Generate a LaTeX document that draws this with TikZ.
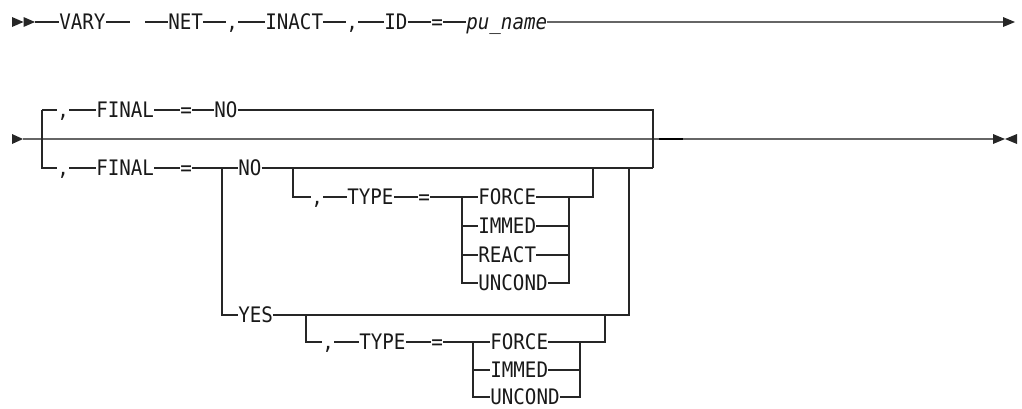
\documentclass[tikz,border=0pt]{standalone}
\usepackage{fontspec}
\usepackage{tikz}
\newfontfamily\railfont{DejaVu Sans Mono}[FakeStretch=0.9]
\tikzset{
        rail_kw/.style={font=\railfont\fontsize{16}{18}\selectfont, inner sep=0pt,
                        text height=11.7pt, text depth=0pt, anchor=west, text=black!90},
        rail_line/.style={draw=black!85, line width=0.8pt},
        rail_main/.style={draw=black!60, line width=1.3pt},
        rail_mark/.style={draw=black, line width=1.3pt},
        rail_tip/.style={fill=black!85}
    }

\begin{document}
\begin{tikzpicture}[x=0.75pt, y=-0.75pt]
    \useasboundingbox (0,0) rectangle (1022,408);
    % first line
    \coordinate (r1a) at (12,22);
    \coordinate (r1b) at (23.5,22);
    \coordinate (r1c) at (35,22);
    \fill[rail_tip] (r1a) ++(0,-5) -- (r1b) -- ++(-11.5,5) -- cycle;
    \fill[rail_tip] (r1b) ++(0,-5) -- (r1c) -- ++(-11.5,5) -- cycle;
    \node[rail_kw] (vary) at (59,22) {VARY};
    \coordinate (gapl) at (130,22);
    \coordinate (gapr) at (145,22);
    \node[rail_kw] (net) at (168,22) {NET};
    \node[rail_kw] (c1) at (226,22) {,};
    \node[rail_kw] (inact) at (265,22) {INACT};
    \node[rail_kw] (c2) at (346,22) {,};
    \node[rail_kw] (id) at (384,22) {ID};
    \node[rail_kw] (eq1) at (431,22) {=};
    \node[rail_kw] (puname) at (466,22) {\itshape pu\_name};
    \coordinate (r1end) at (1003,22);
    \draw[rail_line] (r1c) -- (vary.west) (vary.east) -- (gapl) (gapr) -- (net.west)
        (net.east) -- (c1.west) (c1.east) -- (inact.west) (inact.east) -- (c2.west)
        (c2.east) -- (id.west) (id.east) -- (eq1.west) (eq1.east) -- (puname.west);
    \draw[rail_main] (puname.east) -- (r1end);
    \fill[rail_tip] (r1end) ++(0,-5) -- ++(12,5) -- ++(-12,5) -- cycle;

    % second line
    \coordinate (r2a) at (12,139);
    \coordinate (r2b) at (23,139);
    \coordinate (r2end) at (993,139);
    \coordinate (r2stop) at (1017,139);
    \coordinate (ltop) at (42,110);
    \coordinate (lbot) at (42,168);
    \coordinate (rtop) at (653,110);
    \coordinate (rbot) at (653,168);
    \coordinate (mk1) at (659,139);
    \coordinate (mk2) at (683,139);
    \fill[rail_tip] (r2a) ++(0,-5) -- (r2b) -- ++(-11,5) -- cycle;
    \draw[rail_main] (r2b) -- (r2end);
    \draw[rail_mark] (mk1) -- (mk2);
    \fill[rail_tip] (r2end) ++(0,-5) -- ++(12,5) -- ++(-12,5) -- cycle;
    \fill[rail_tip] (r2stop) ++(0,-5) -- ++(-12,5) -- ++(12,5) -- cycle;

    \node[rail_kw] (tc) at (57,110) {,};
    \node[rail_kw] (tfinal) at (96,110) {FINAL};
    \node[rail_kw] (teq) at (180,110) {=};
    \node[rail_kw] (tno) at (214,110) {NO};
    \draw[rail_line] (ltop) -- (tc.west) (tc.east) -- (tfinal.west) (tfinal.east) -- (teq.west)
        (teq.east) -- (tno.west) (tno.east) -- (rtop) -- (rbot);

    \node[rail_kw] (bc) at (57,168) {,};
    \node[rail_kw] (bfinal) at (96,168) {FINAL};
    \node[rail_kw] (beq) at (180,168) {=};
    \coordinate (fsplit) at (222,168);
    \coordinate (ysplit) at (222,315);
    \node[rail_kw] (bno) at (238,168) {NO};
    \node[rail_kw] (byes) at (238,315) {YES};
    \coordinate (yjoin) at (629,315);
    \coordinate (njoin) at (629,168);
    \draw[rail_line] (ltop) -- (lbot) -- (bc.west) (bc.east) -- (bfinal.west) (bfinal.east) -- (beq.west)
        (beq.east) -- (fsplit) -- (bno.west) (bno.east) -- (rbot);
    \draw[rail_line] (fsplit) -- (ysplit) -- (byes.west) (byes.east) -- (yjoin) -- (njoin);

    % TYPE after NO
    \coordinate (nsplit) at (293,168);
    \coordinate (ntop) at (293,197);
    \node[rail_kw] (nc) at (311,197) {,};
    \node[rail_kw] (ntype) at (347,197) {TYPE};
    \node[rail_kw] (neq) at (418,197) {=};
    \coordinate (nch) at (462,197);
    \node[rail_kw] (nforce) at (478,197) {FORCE};
    \node[rail_kw] (nimmed) at (478,226) {IMMED};
    \node[rail_kw] (nreact) at (478,255) {REACT};
    \node[rail_kw] (nuncond) at (478,283) {UNCOND};
    \coordinate (nm) at (569,197);
    \coordinate (nout) at (593,197);
    \coordinate (nback) at (593,168);
    \draw[rail_line] (nsplit) -- (ntop) -- (nc.west) (nc.east) -- (ntype.west) (ntype.east) -- (neq.west)
        (neq.east) -- (nch) -- (nforce.west) (nforce.east) -- (nout) -- (nback);
    \draw[rail_line] (nch) -- (nch |- nuncond.west) -- (nuncond.west)
        (nch |- nimmed.west) -- (nimmed.west) (nch |- nreact.west) -- (nreact.west);
    \draw[rail_line] (nuncond.east) -- (nm |- nuncond.east) -- (nm)
        (nimmed.east) -- (nm |- nimmed.east) (nreact.east) -- (nm |- nreact.east);

    % TYPE after YES
    \coordinate (ysplit2) at (306,315);
    \coordinate (ytop) at (306,342);
    \node[rail_kw] (yc) at (322,342) {,};
    \node[rail_kw] (ytype) at (359,342) {TYPE};
    \node[rail_kw] (yeq) at (431,342) {=};
    \coordinate (ych) at (473,342);
    \node[rail_kw] (yforce) at (490,342) {FORCE};
    \node[rail_kw] (yimmed) at (490,370) {IMMED};
    \node[rail_kw] (yuncond) at (490,397) {UNCOND};
    \coordinate (ym) at (580,342);
    \coordinate (yout) at (605,342);
    \coordinate (yback) at (605,315);
    \draw[rail_line] (ysplit2) -- (ytop) -- (yc.west) (yc.east) -- (ytype.west) (ytype.east) -- (yeq.west)
        (yeq.east) -- (ych) -- (yforce.west) (yforce.east) -- (yout) -- (yback);
    \draw[rail_line] (ych) -- (ych |- yuncond.west) -- (yuncond.west)
        (ych |- yimmed.west) -- (yimmed.west);
    \draw[rail_line] (yuncond.east) -- (ym |- yuncond.east) -- (ym)
        (yimmed.east) -- (ym |- yimmed.east);
\end{tikzpicture}
\end{document}
